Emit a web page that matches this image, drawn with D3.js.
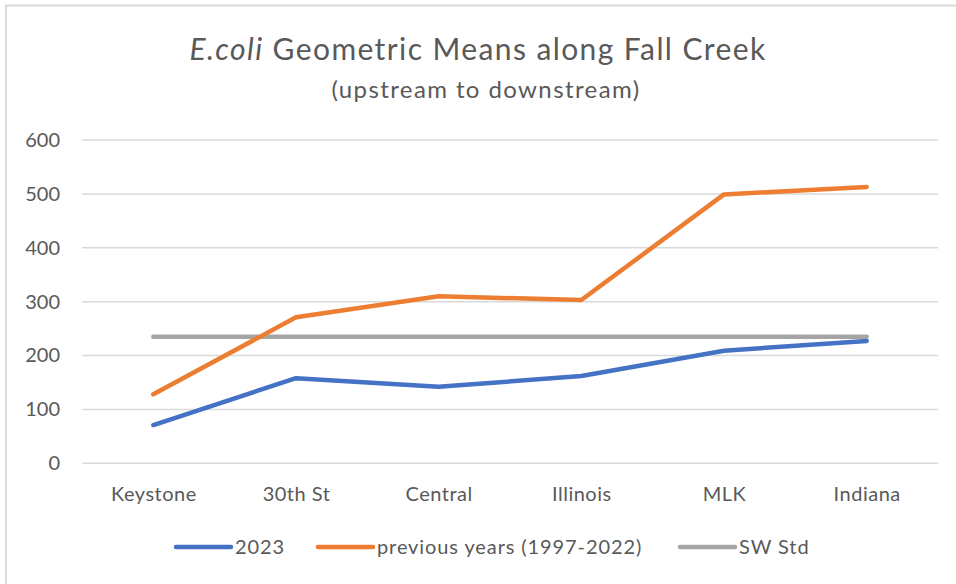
<!DOCTYPE html>
<html>
<head>
<meta charset="utf-8">
<script src="https://cdn.jsdelivr.net/npm/d3@7"></script>
<style>
  body { margin: 0; background: #fff; }
  text { font-family: Lato, "Open Sans", sans-serif; fill: #595959; }
</style>
</head>
<body>
<div id="chart"></div>
<script>
// data
var sites = ['Keystone', '30th St', 'Central', 'Illinois', 'MLK', 'Indiana'];
var values2023 = [71, 158, 142, 162, 209, 227];
var valuesPrevious = [128, 271, 310, 303, 499, 513];
var swStd = [235, 235, 235, 235, 235, 235];
var yTicks = [0, 100, 200, 300, 400, 500, 600];
var seriesNames = ['2023', 'previous years (1997-2022)', 'SW Std'];
var seriesColors = ['#4472C4', '#ED7D31', '#A5A5A5'];

var width = 956, height = 584;
var plot = { left: 82, right: 938, top: 140, bottom: 463.3 };

var svg = d3.select('#chart').append('svg')
    .attr('width', width).attr('height', height);

// outer chart border (top and left only visible)
svg.append('line').attr('x1', 5).attr('x2', width).attr('y1', 5.5).attr('y2', 5.5)
   .attr('stroke', '#d9d9d9').attr('stroke-width', 2);
svg.append('line').attr('x1', 6).attr('x2', 6).attr('y1', 5).attr('y2', height)
   .attr('stroke', '#d9d9d9').attr('stroke-width', 2);

var x = d3.scalePoint().domain(sites).range([plot.left, plot.right]).padding(0.5);
var y = d3.scaleLinear().domain([0, 600]).range([plot.bottom, plot.top]);

// title
var title = svg.append('text').attr('x', 478).attr('y', 60)
    .attr('text-anchor', 'middle').style('font-size', '30px')
    .style('letter-spacing', '1.4px');
title.append('tspan').style('font-style', 'italic').text('E.coli');
title.append('tspan').text(' Geometric Means along Fall Creek');

svg.append('text').attr('x', 486).attr('y', 98)
    .attr('text-anchor', 'middle').style('font-size', '24px')
    .style('letter-spacing', '1.4px')
    .text('(upstream to downstream)');

// gridlines
svg.append('g').selectAll('line').data(yTicks).enter().append('line')
   .attr('x1', plot.left).attr('x2', plot.right)
   .attr('y1', function (d) { return y(d); })
   .attr('y2', function (d) { return y(d); })
   .attr('stroke', '#d9d9d9').attr('stroke-width', 1.5);

// y axis labels
var yAxis = d3.axisLeft(y).tickValues(yTicks).tickSize(0).tickPadding(22);
var yg = svg.append('g').attr('transform', 'translate(' + plot.left + ',0)').call(yAxis);
yg.select('.domain').remove();
yg.selectAll('text').style('font-size', '20px').style('font-family', null).attr('fill', null);

// x axis labels
var xAxis = d3.axisBottom(x).tickSize(0).tickPadding(24);
var xg = svg.append('g').attr('transform', 'translate(0,' + plot.bottom + ')').call(xAxis);
xg.select('.domain').remove();
xg.selectAll('text').style('font-size', '20px').style('letter-spacing', '0.5px')
  .style('font-family', null).attr('fill', null);

// lines
var line = d3.line()
    .x(function (d, i) { return x(sites[i]); })
    .y(function (d) { return y(d); });

var series = [values2023, valuesPrevious, swStd];
var drawOrder = [2, 1, 0];
drawOrder.forEach(function (s) {
  svg.append('path').datum(series[s])
     .attr('d', line)
     .attr('fill', 'none')
     .attr('stroke', seriesColors[s])
     .attr('stroke-width', 4.5)
     .attr('stroke-linecap', 'round')
     .attr('stroke-linejoin', 'round');
});

// legend
var legendX = [176, 318, 680];
var legend = svg.append('g').selectAll('g').data(seriesNames).enter().append('g')
    .attr('transform', function (d, i) { return 'translate(' + legendX[i] + ',547)'; });
legend.append('line').attr('x1', 0).attr('x2', 55).attr('y1', 0).attr('y2', 0)
    .attr('stroke', function (d, i) { return seriesColors[i]; })
    .attr('stroke-width', 4.5).attr('stroke-linecap', 'round');
legend.append('text').attr('x', 59).attr('y', 7)
    .style('font-size', '20px').style('letter-spacing', '0.9px')
    .text(function (d) { return d; });
</script>
</body>
</html>
